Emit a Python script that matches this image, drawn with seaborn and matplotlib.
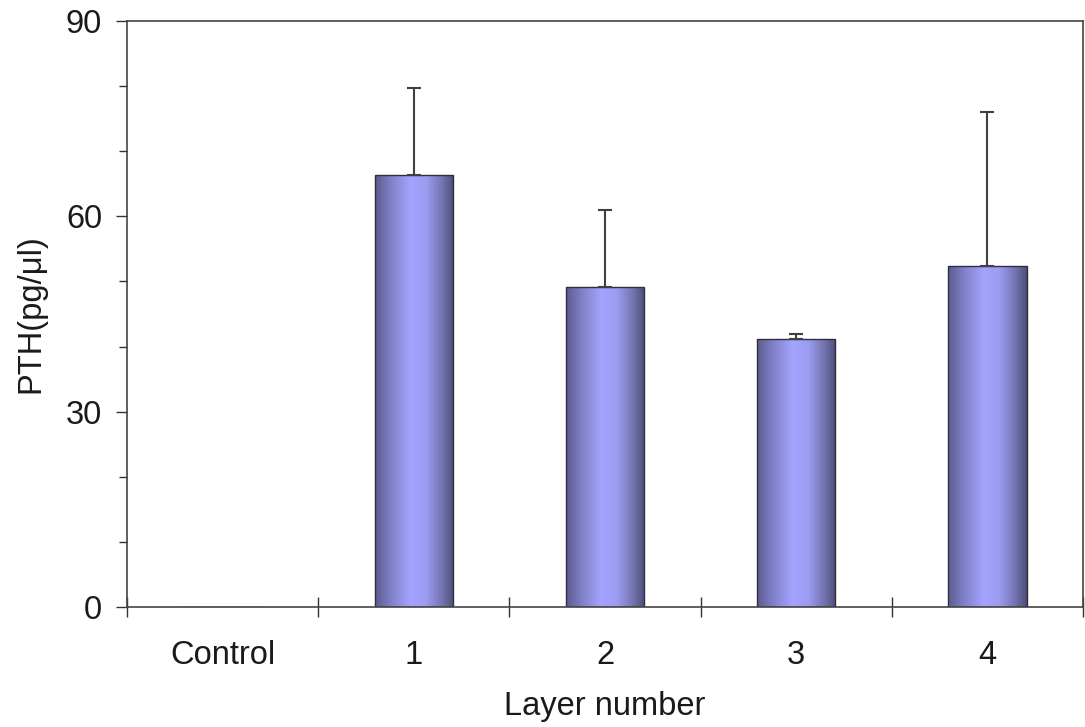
import numpy as np
import pandas as pd
import seaborn as sns
import matplotlib.pyplot as plt
from matplotlib.colors import LinearSegmentedColormap
from matplotlib.ticker import MultipleLocator, FixedLocator

# data
groups = ['Control', '1', '2', '3', '4']
pth_mean = [0.0, 66.3, 49.1, 41.2, 52.3]
pth_err = [0.0, 13.4, 11.8, 0.7, 23.8]

sns.set_theme(style="white")
plt.rcParams['font.family'] = ['Liberation Sans', 'DejaVu Sans']

df = pd.DataFrame({'group': groups, 'pth': pth_mean})

fig = plt.figure(figsize=(10.85, 7.27), dpi=100)
ax = fig.add_axes([127 / 1085, 120 / 727, (1083 - 127) / 1085, (706 - 120) / 727])

sns.barplot(data=df, x='group', y='pth', order=groups, width=0.41,
            color='#a0a0ff', edgecolor='#2e2e40', linewidth=1.0, ax=ax,
            errorbar=None)

# cylinder-like horizontal shading inside each bar
cmap = LinearSegmentedColormap.from_list(
    'bar', [(0.0, '#5c5c8c'), (0.2, '#8080c8'), (0.45, '#a4a4ff'),
            (0.65, '#9c9cf2'), (0.85, '#7474b0'), (1.0, '#4e4e78')])
grad = np.linspace(0, 1, 256).reshape(1, -1)
for p in ax.patches:
    x0, y0 = p.get_x(), p.get_y()
    w, h = p.get_width(), p.get_height()
    if h <= 0:
        continue
    im = ax.imshow(grad, cmap=cmap, aspect='auto', extent=[x0, x0 + w, y0, y0 + h],
                   zorder=p.get_zorder() + 0.1, interpolation='bicubic')
    im.set_clip_path(p)
    p.set_facecolor('none')
    p.set_zorder(p.get_zorder() + 0.2)

# upper-only error bars
xs = np.arange(len(groups))
ax.errorbar(xs[1:], pth_mean[1:], yerr=[np.zeros(len(groups) - 1), pth_err[1:]],
            fmt='none', ecolor='#404040', elinewidth=1.5, capsize=4.7,
            capthick=1.5, zorder=5)

ax.set_xlim(-0.5, len(groups) - 0.5)
ax.set_ylim(0, 90)

# category boundary ticks, labels in between
ax.xaxis.set_major_locator(FixedLocator(np.arange(-0.5, len(groups), 1.0)))
ax.xaxis.set_minor_locator(FixedLocator(xs))
ax.set_xticklabels([''] * (len(groups) + 1))
ax.set_xticklabels(groups, minor=True)
ax.tick_params(axis='x', which='major', direction='inout', length=15,
               width=1.0, color='#333333', bottom=True)
ax.tick_params(axis='x', which='minor', length=0, labelsize=23.5, pad=24,
               labelcolor='#1a1a1a')

ax.yaxis.set_major_locator(MultipleLocator(30))
ax.yaxis.set_minor_locator(MultipleLocator(10))
ax.tick_params(axis='y', which='major', direction='out', length=8, width=1.0,
               color='#333333', labelsize=23.5, left=True, pad=10,
               labelcolor='#1a1a1a')
ax.tick_params(axis='y', which='minor', direction='out', length=6, width=1.0,
               color='#333333', left=True)

ax.set_xlabel('Layer number', fontsize=23.5, labelpad=14, color='#1a1a1a')
ax.set_ylabel('PTH(pg/μl)', fontsize=23.5, labelpad=14, color='#1a1a1a')

for s in ax.spines.values():
    s.set_color('#444444')
    s.set_linewidth(1.2)

fig.savefig('out.png', dpi=100)
